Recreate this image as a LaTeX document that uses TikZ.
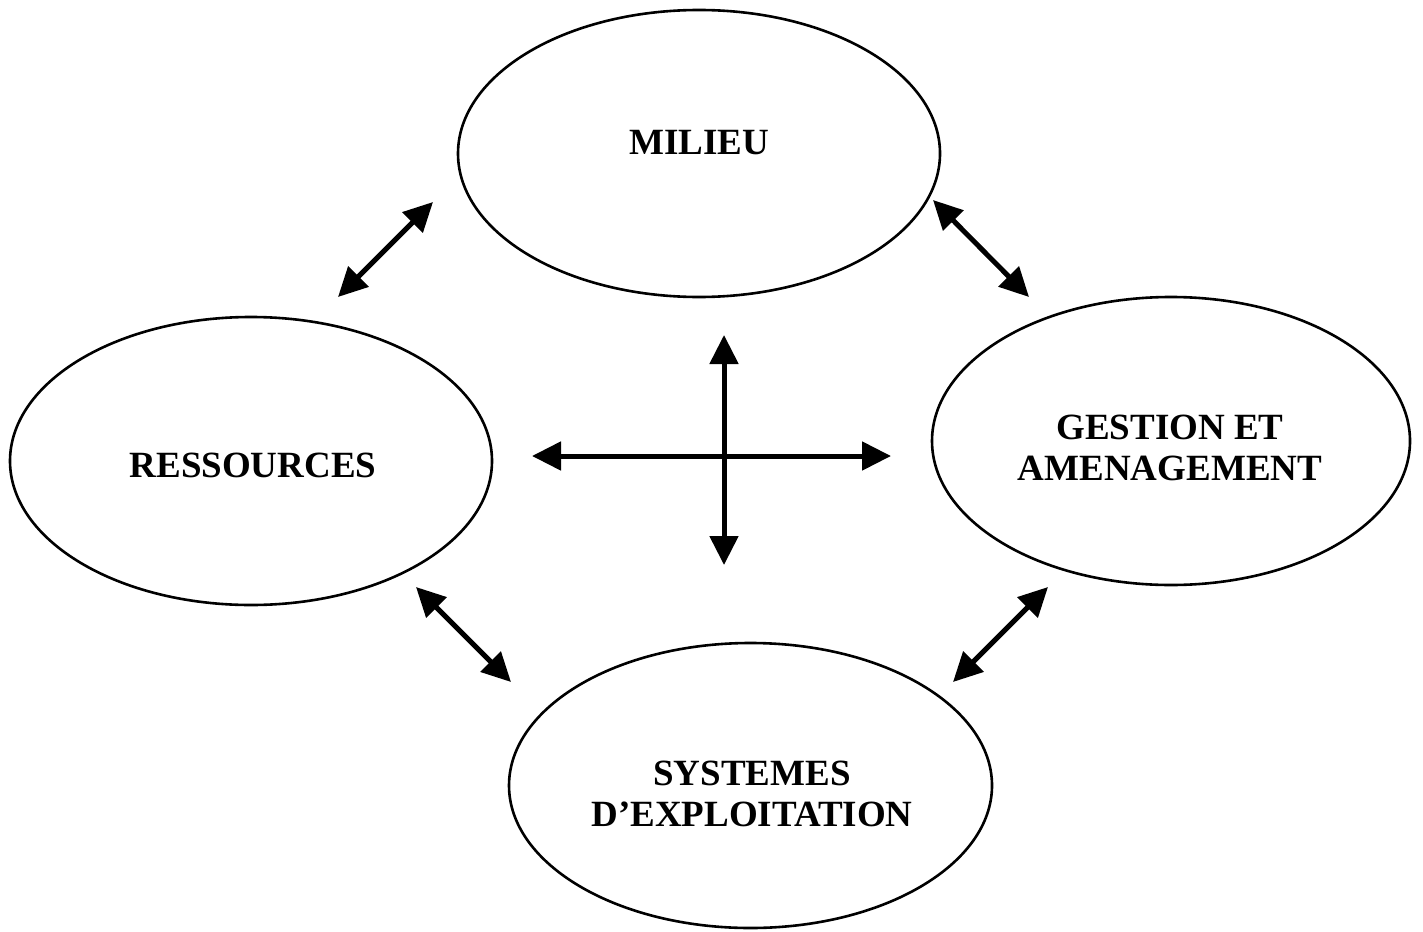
\documentclass[tikz,border=0pt]{standalone}
\usepackage{fontspec}
\setmainfont{Liberation Serif}
\usetikzlibrary{shapes.geometric,arrows.meta}
\begin{document}
\begin{tikzpicture}[x=1pt,y=-1pt,
  blob/.style={draw=black,line width=2.6pt,ellipse,inner sep=0pt},
  lbl/.style={font=\fontsize{37}{41}\selectfont\bfseries,align=center,inner sep=0pt},
  dbl/.style={line width=5pt,{Triangle[length=29pt,width=28pt]}-{Triangle[length=29pt,width=28pt]}}]
\useasboundingbox (0,0) rectangle (1423,931);
\node[blob,minimum width=482pt,minimum height=287pt] (milieu) at (699,153.5) {};
\node[blob,minimum width=482pt,minimum height=288pt] (res) at (251,461) {};
\node[blob,minimum width=478pt,minimum height=288pt] (gest) at (1171,441) {};
\node[blob,minimum width=483pt,minimum height=285pt] (sys) at (750.5,785.5) {};
\node[lbl] (milieuT) at (699,143) {MILIEU};
\node[lbl] (resT) at (253,465) {RESSOURCES};
\node[lbl] (gestT) at (1170,448) {GESTION ET\\AMENAGEMENT};
\node[lbl] (sysT) at (752,794) {SYSTEMES\\D’EXPLOITATION};
\coordinate (a1) at (433,202);
\coordinate (a2) at (338,297);
\coordinate (b1) at (933,200);
\coordinate (b2) at (1029,297);
\coordinate (c1) at (416,587);
\coordinate (c2) at (511,682);
\coordinate (d1) at (1048,587);
\coordinate (d2) at (953,682);
\coordinate (h1) at (532,456);
\coordinate (h2) at (891,456);
\coordinate (v1) at (724,335);
\coordinate (v2) at (724,565);
\draw[dbl] (a1) -- (a2);
\draw[dbl] (b1) -- (b2);
\draw[dbl] (c1) -- (c2);
\draw[dbl] (d1) -- (d2);
\draw[dbl] (h1) -- (h2);
\draw[dbl] (v1) -- (v2);
\end{tikzpicture}
\end{document}
